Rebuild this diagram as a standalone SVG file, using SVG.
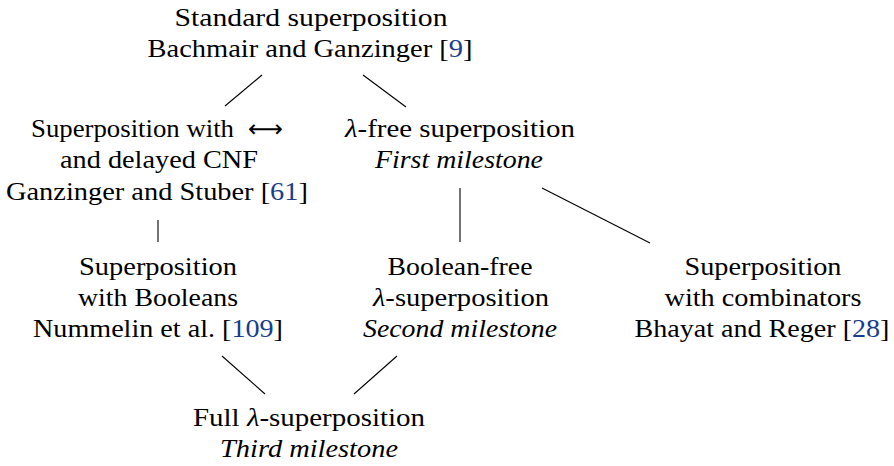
<svg xmlns="http://www.w3.org/2000/svg" width="894" height="466" viewBox="0 0 894 466" font-family="'Liberation Serif', 'Times New Roman', Times, serif">
<style>
text{font-size:26px;fill:#000;text-anchor:middle}
.it{font-style:italic}
.cite{fill:#1a3c8c}
.arr{font-family:"DejaVu Sans",sans-serif;font-size:24px}
.edge{stroke:#000;stroke-width:1.1;fill:none}
</style>
<rect width="894" height="466" fill="#fff"/>
<g id="connectors">
<line class="edge" x1="262" y1="75" x2="225" y2="106"/>
<line class="edge" x1="363" y1="75" x2="406" y2="107"/>
<line class="edge" x1="158" y1="220" x2="158" y2="242"/>
<line class="edge" x1="460" y1="188" x2="460" y2="242"/>
<line class="edge" x1="542" y1="188" x2="650" y2="243"/>
<line class="edge" x1="222" y1="356" x2="265" y2="394"/>
<line class="edge" x1="397" y1="356" x2="354" y2="394"/>
</g>
<g id="standard">
<text x="311" y="26" textLength="273" lengthAdjust="spacingAndGlyphs">Standard superposition</text>
<text x="310" y="57" textLength="325" lengthAdjust="spacingAndGlyphs">Bachmair and Ganzinger [<tspan class="cite">9</tspan>]</text>
</g>
<g id="delayed">
<text x="132.5" y="137" textLength="203" lengthAdjust="spacingAndGlyphs">Superposition with</text>
<text class="arr" x="265.5" y="137" textLength="35" lengthAdjust="spacingAndGlyphs">⟷</text>
<text x="159" y="168" textLength="198" lengthAdjust="spacingAndGlyphs">and delayed CNF</text>
<text x="157" y="200" textLength="302" lengthAdjust="spacingAndGlyphs">Ganzinger and Stuber [<tspan class="cite">61</tspan>]</text>
</g>
<g id="lambdafree">
<text x="460" y="137" textLength="230" lengthAdjust="spacingAndGlyphs"><tspan class="it">λ</tspan>-free superposition</text>
<text x="459" y="168" class="it" textLength="168" lengthAdjust="spacingAndGlyphs">First milestone</text>
</g>
<g id="booleans">
<text x="158" y="275" textLength="158" lengthAdjust="spacingAndGlyphs">Superposition</text>
<text x="158" y="306" textLength="160" lengthAdjust="spacingAndGlyphs">with Booleans</text>
<text x="158" y="337" textLength="250" lengthAdjust="spacingAndGlyphs">Nummelin et al. [<tspan class="cite">109</tspan>]</text>
</g>
<g id="booleanfree">
<text x="460" y="275" textLength="145" lengthAdjust="spacingAndGlyphs">Boolean-free</text>
<text x="461" y="306" textLength="176" lengthAdjust="spacingAndGlyphs"><tspan class="it">λ</tspan>-superposition</text>
<text x="460" y="337" class="it" textLength="194" lengthAdjust="spacingAndGlyphs">Second milestone</text>
</g>
<g id="combinators">
<text x="763" y="275" textLength="157" lengthAdjust="spacingAndGlyphs">Superposition</text>
<text x="763" y="306" textLength="197" lengthAdjust="spacingAndGlyphs">with combinators</text>
<text x="762" y="337" textLength="255" lengthAdjust="spacingAndGlyphs">Bhayat and Reger [<tspan class="cite">28</tspan>]</text>
</g>
<g id="full">
<text x="309" y="426" textLength="232" lengthAdjust="spacingAndGlyphs">Full <tspan class="it">λ</tspan>-superposition</text>
<text x="309" y="457" class="it" textLength="178" lengthAdjust="spacingAndGlyphs">Third milestone</text>
</g>
</svg>
